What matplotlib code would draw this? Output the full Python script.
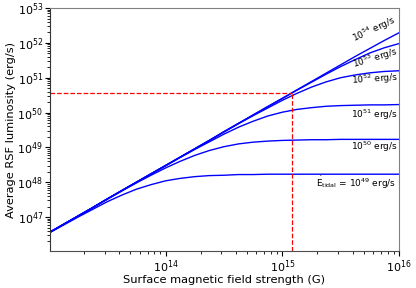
import numpy as np
import matplotlib
matplotlib.use('Agg')
import matplotlib.pyplot as plt

# log10 of surface field strength (G)
log_b = [13.0, 13.125, 13.25, 13.375, 13.5, 13.625, 13.75, 13.875, 14.0, 14.125, 14.25, 14.375, 14.5,
         14.625, 14.75, 14.875, 15.0, 15.125, 15.25, 15.375, 15.5, 15.625, 15.75, 15.875, 16.0]

# log10 of average RSF luminosity (erg/s), one list per tidal power
lum_49 = [46.54, 46.77, 47.00, 47.22, 47.44, 47.63, 47.80, 47.93, 48.04, 48.11, 48.16, 48.19, 48.20,
          48.22, 48.22, 48.23, 48.23, 48.23, 48.23, 48.23, 48.23, 48.23, 48.23, 48.23, 48.23]
lum_50 = [46.55, 46.79, 47.03, 47.27, 47.51, 47.75, 47.98, 48.20, 48.41, 48.60, 48.77, 48.91, 49.02,
          49.10, 49.15, 49.18, 49.20, 49.21, 49.22, 49.22, 49.23, 49.23, 49.23, 49.23, 49.23]
lum_51 = [46.55, 46.79, 47.03, 47.27, 47.52, 47.76, 48.00, 48.24, 48.47, 48.71, 48.94, 49.16, 49.38,
          49.58, 49.75, 49.90, 50.01, 50.09, 50.14, 50.18, 50.20, 50.21, 50.22, 50.22, 50.23]
lum_52 = [46.55, 46.79, 47.03, 47.27, 47.52, 47.76, 48.00, 48.24, 48.48, 48.72, 48.96, 49.20, 49.44,
          49.68, 49.91, 50.13, 50.35, 50.55, 50.73, 50.88, 51.00, 51.08, 51.14, 51.18, 51.20]
lum_53 = [46.55, 46.79, 47.03, 47.27, 47.52, 47.76, 48.00, 48.24, 48.48, 48.72, 48.96, 49.20, 49.45,
          49.69, 49.93, 50.17, 50.40, 50.64, 50.87, 51.10, 51.32, 51.52, 51.71, 51.86, 51.98]
lum_54 = [46.55, 46.79, 47.03, 47.27, 47.52, 47.76, 48.00, 48.24, 48.48, 48.72, 48.96, 49.20, 49.45,
          49.69, 49.93, 50.17, 50.41, 50.65, 50.89, 51.13, 51.37, 51.61, 51.84, 52.07, 52.29]

curves = [lum_49, lum_50, lum_51, lum_52, lum_53, lum_54]
labels = [r'$\dot{\rm E}_{\rm tidal}$ = 10$^{49}$ erg/s', r'10$^{50}$ erg/s', r'10$^{51}$ erg/s',
          r'10$^{52}$ erg/s', r'10$^{53}$ erg/s', r'10$^{54}$ erg/s']
# label positions (axes fraction) and rotation
label_pos = [(0.877, 0.280, 0), (0.931, 0.428, 0), (0.931, 0.560, 0),
             (0.931, 0.708, 4), (0.931, 0.794, 17), (0.930, 0.912, 25)]

# marked point
mark_b = 1.2e15
mark_l = 3.7e50

fig = plt.figure(figsize=(4.16, 2.88), dpi=100)
ax = fig.add_axes([0.120, 0.128, 0.839, 0.844])

b = 10 ** np.array(log_b)
for lum in curves:
    ax.plot(b, 10 ** np.array(lum), color='blue', lw=1.0)

ax.set_xscale('log')
ax.set_yscale('log')
ax.set_xlim(1.02e13, 1e16)
ax.set_ylim(1.05e46, 1e53)

ax.plot([1.02e13, mark_b], [mark_l, mark_l], color='red', ls='--', lw=0.9)
ax.plot([mark_b, mark_b], [1.05e46, mark_l], color='red', ls='--', lw=0.9)

for text, (px, py, rot) in zip(labels, label_pos):
    ax.text(px, py, text, transform=ax.transAxes, ha='center', va='center',
            rotation=rot, fontsize=6.5)

ax.set_xlabel('Surface magnetic field strength (G)', fontsize=8.2, labelpad=0)
ax.set_ylabel('Average RSF luminosity (erg/s)', fontsize=8.2, labelpad=1)
ax.tick_params(labelsize=8, pad=1.5)
ax.tick_params(which='major', length=3.5)
ax.tick_params(which='minor', length=2)
for s in ax.spines.values():
    s.set_color('0.5')
ax.spines['left'].set_color('0.2')
ax.spines['bottom'].set_color('0.3')

fig.savefig('out.png', dpi=100)
